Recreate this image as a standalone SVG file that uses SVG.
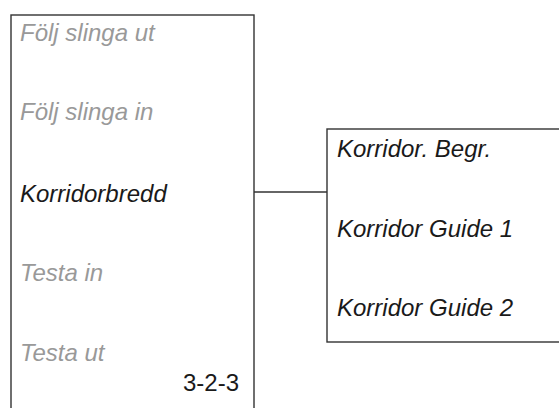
<svg xmlns="http://www.w3.org/2000/svg" width="559" height="408" viewBox="0 0 559 408">
<style>
.box{fill:#fff;stroke:#333;stroke-width:1.4}
.t{font-family:"Liberation Sans",Arial,sans-serif;font-size:24px;font-style:italic}
.g{fill:#999}
.k{fill:#1a1a1a}
.n{font-family:"Liberation Sans",Arial,sans-serif;font-size:24px;fill:#1a1a1a}
.c{stroke:#333;stroke-width:1.4;fill:none}
</style>
<rect width="559" height="408" fill="#fff"/>
<g id="connectors">
<line class="c" x1="254" y1="192" x2="327" y2="192"/>
</g>
<g id="menu">
<rect class="box" x="11" y="15" width="243" height="410"/>
<text class="t g" x="20" y="41">Följ slinga ut</text>
<text class="t g" x="20" y="120">Följ slinga in</text>
<text class="t k" x="20" y="202">Korridorbredd</text>
<text class="t g" x="20" y="281">Testa in</text>
<text class="t g" x="20" y="361">Testa ut</text>
<text class="n" x="239" y="391" text-anchor="end">3-2-3</text>
</g>
<g id="submenu">
<rect class="box" x="327" y="129" width="250" height="213"/>
<text class="t k" x="337" y="157">Korridor. Begr.</text>
<text class="t k" x="337" y="237">Korridor Guide 1</text>
<text class="t k" x="337" y="316">Korridor Guide 2</text>
</g>
</svg>
